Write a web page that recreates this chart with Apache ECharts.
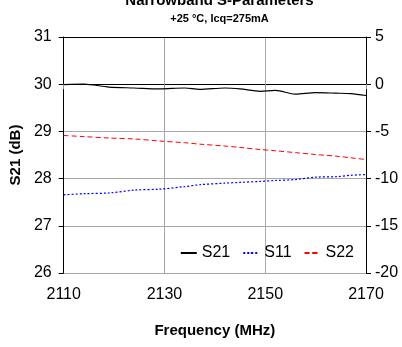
<!DOCTYPE html>
<html><head><meta charset="utf-8">
<script src="https://cdn.jsdelivr.net/npm/echarts@6/dist/echarts.min.js"></script>
<style>html,body{margin:0;padding:0;background:#fff}#c{width:402px;height:347px}</style>
</head><body><div id="c"></div>
<script>
var freq = [2110, 2114, 2119, 2124, 2129, 2134, 2137, 2142, 2145, 2149, 2152, 2156, 2160, 2164, 2167, 2170];
var s21 = [29.99, 30.0, 29.94, 29.92, 29.90, 29.92, 29.89, 29.92, 29.90, 29.85, 29.87, 29.79, 29.82, 29.81, 29.80, 29.76];
var s11 = [-11.72, -11.6, -11.52, -11.22, -11.12, -10.85, -10.65, -10.48, -10.4, -10.3, -10.2, -10.1, -9.85, -9.8, -9.65, -9.57];
var s22 = [-5.43, -5.55, -5.7, -5.8, -6.02, -6.2, -6.35, -6.55, -6.7, -6.92, -7.05, -7.25, -7.45, -7.62, -7.8, -7.98];
var titleText = 'Narrowband S-Parameters';
var subText = '+25 °C, Icq=275mA';
function pairs(a){ return freq.map(function(f,i){ return [f, a[i]]; }); }
var font = 'Liberation Sans, Arial, sans-serif';
var chart = echarts.init(document.getElementById('c'), null, {renderer:'canvas'});
chart.setOption({
  animation:false,
  title:[
    {text:titleText, left:214.5, top:-12, textAlign:'center', textStyle:{fontFamily:font, fontWeight:'bold', fontSize:15, color:'#000'}},
    {text:subText, left:214.5, top:8, textAlign:'center', textStyle:{fontFamily:font, fontWeight:'bold', fontSize:11, color:'#000'}}
  ],
  grid:{left:63, right:36, top:37, bottom:74},
  legend:{
    right:43, top:240, itemWidth:16, itemHeight:2, itemGap:12,
    textStyle:{fontFamily:font, fontSize:16, color:'#000'},
    data:['S21','S11','S22']
  },
  xAxis:[{
    type:'value', min:2110, max:2170, interval:20,
    name:'Frequency (MHz)', nameLocation:'middle', nameGap:50,
    nameTextStyle:{fontFamily:font, fontWeight:'bold', fontSize:15, color:'#000'},
    axisLine:{lineStyle:{color:'#000', width:1}},
    axisTick:{show:true, length:5, lineStyle:{color:'#999'}},
    axisLabel:{fontFamily:font, fontSize:16, color:'#000', margin:14, formatter:function(v){return String(v);}},
    splitLine:{show:true, lineStyle:{color:'#a8a8a8', width:1}}
  },{
    type:'value', position:'top', min:2110, max:2170, interval:20,
    axisLine:{show:true, lineStyle:{color:'#000', width:1}},
    axisTick:{show:false}, axisLabel:{show:false}, splitLine:{show:false}
  }],
  yAxis:[{
    type:'value', min:26, max:31, interval:1, position:'left',
    name:'S21 (dB)', nameLocation:'middle', nameGap:38,
    nameTextStyle:{fontFamily:font, fontWeight:'bold', fontSize:15, color:'#000'},
    axisLine:{show:true, lineStyle:{color:'#000', width:1}},
    axisTick:{show:true, length:5, lineStyle:{color:'#000'}},
    axisLabel:{fontFamily:font, fontSize:16, color:'#000', margin:12},
    splitLine:{show:true, lineStyle:{color:'#a8a8a8', width:1}}
  },{
    type:'value', min:-20, max:5, interval:5, position:'right',
    axisLine:{show:true, lineStyle:{color:'#000', width:1}},
    axisTick:{show:true, length:5, lineStyle:{color:'#000'}},
    axisLabel:{fontFamily:font, fontSize:16, color:'#000', margin:9},
    splitLine:{show:false}
  }],
  series:[
    {name:'S21', type:'line', yAxisIndex:0, data:pairs(s21), symbol:'none', smooth:0.3,
     lineStyle:{color:'#000', width:1.2, type:'solid'}, itemStyle:{color:'#000'}},
    {name:'S11', type:'line', yAxisIndex:1, data:pairs(s11), symbol:'none', smooth:0.3,
     lineStyle:{color:'#0000ff', width:1.2, type:[2,2]}, itemStyle:{color:'#0000ff'}},
    {name:'S22', type:'line', yAxisIndex:1, data:pairs(s22), symbol:'none', smooth:0.3,
     lineStyle:{color:'#ff0000', width:1, type:[5,3]}, itemStyle:{color:'#ff0000'}}
  ]
});
</script></body></html>
